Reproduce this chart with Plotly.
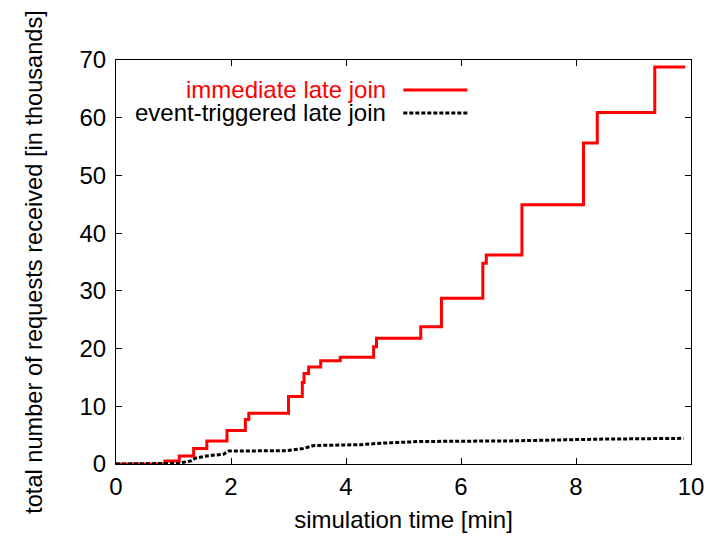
import plotly.graph_objects as go

# immediate late join (step data, thousands of requests)
imm_x = [0, 0.85, 1.10, 1.35, 1.58, 1.93, 2.25, 2.31, 3.00, 3.24, 3.27, 3.35, 3.56, 3.90,
         4.48, 4.53, 5.30, 5.66, 6.38, 6.44, 7.06, 8.13, 8.37, 9.37, 9.90]
imm_y = [0, 0.5, 1.4, 2.7, 4.0, 5.8, 7.7, 8.8, 11.7, 14.1, 15.7, 16.8, 17.9, 18.5,
         20.3, 21.8, 23.8, 28.7, 34.8, 36.2, 44.9, 55.6, 60.9, 68.8, 68.8]

# event-triggered late join
evt_x = [0, 0.86, 1.06, 1.29, 1.38, 1.58, 1.87, 1.96, 2.97, 3.26, 3.44, 4.25, 4.60,
         5.29, 6.86, 8.37, 9.87]
evt_y = [0, 0, 0.1, 0.5, 1.0, 1.4, 1.7, 2.25, 2.3, 2.7, 3.2, 3.35, 3.6,
         3.9, 4.0, 4.3, 4.45]

x_ticks = [0, 2, 4, 6, 8, 10]
y_ticks = [0, 10, 20, 30, 40, 50, 60, 70]

FONT = "Liberation Sans, Arial, sans-serif"
FS = 24

fig = go.Figure()
fig.add_trace(go.Scatter(x=imm_x, y=imm_y, mode="lines", name="immediate late join",
                         line=dict(color="#ff0000", width=3, shape="hv")))
fig.add_trace(go.Scatter(x=evt_x, y=evt_y, mode="lines", name="event-triggered late join",
                         line=dict(color="#000000", width=3, dash="4px,2px")))

axis_common = dict(showline=True, linecolor="black", linewidth=1, mirror="allticks",
                   ticks="inside", ticklen=6, tickcolor="black", showgrid=False,
                   zeroline=False, automargin=False,
                   tickfont=dict(size=FS, color="black", family=FONT))

fig.update_xaxes(range=[0, 10], tickvals=x_ticks, ticklabelstandoff=1,
                 title=dict(text="simulation time [min]", font=dict(size=FS, color="black", family=FONT), standoff=12),
                 **axis_common)
fig.update_yaxes(range=[0, 70], tickvals=y_ticks, ticklabelstandoff=4,
                 title=dict(text="total number of requests received [in thousands]", font=dict(size=23.6, color="black", family=FONT), standoff=30),
                 **axis_common)

# gnuplot-style key: text on the left, sample line on the right
fig.add_annotation(xref="paper", yref="paper", x=0.473, y=0.926, text="immediate late join",
                   showarrow=False, xanchor="right", yanchor="middle",
                   font=dict(size=FS, color="#ff0000", family=FONT))
fig.add_annotation(xref="paper", yref="paper", x=0.473, y=0.869, text="event-triggered late join",
                   showarrow=False, xanchor="right", yanchor="middle",
                   font=dict(size=FS, color="black", family=FONT))
fig.add_shape(type="line", xref="paper", yref="paper", x0=0.4997, x1=0.611, y0=0.926, y1=0.926,
              line=dict(color="#ff0000", width=3))
fig.add_shape(type="line", xref="paper", yref="paper", x0=0.4997, x1=0.611, y0=0.869, y1=0.869,
              line=dict(color="black", width=3, dash="4px,2px"))

fig.update_layout(width=708, height=532, showlegend=False,
                  margin=dict(l=108, r=25, t=52, b=76),
                  plot_bgcolor="white", paper_bgcolor="white",
                  font=dict(family=FONT, color="black"))

fig.write_html("out.html")
